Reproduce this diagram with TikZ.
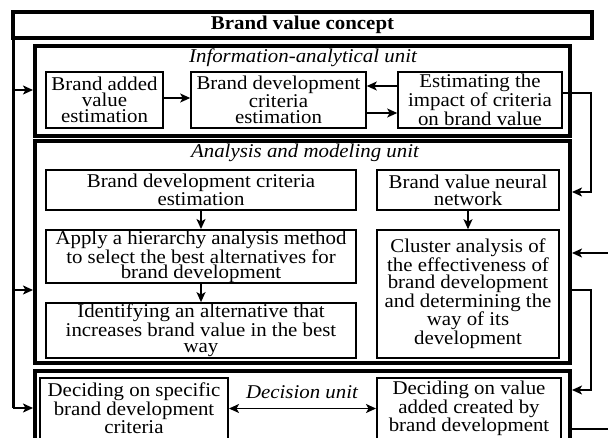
\documentclass[tikz,border=0pt]{standalone}
\usepackage{fontspec}
\setmainfont{Liberation Serif}[FakeStretch=1.07]
\usetikzlibrary{arrows.meta}
\tikzset{
  frame/.style={draw, line width=4pt, minimum width=535pt, inner sep=0pt, outer sep=2pt},
  ibox/.style={draw, line width=1.6pt, align=center, inner sep=1pt, font=\fontsize{19.5}{16}\selectfont},
  utitle/.style={font=\fontsize{19.5}{20}\selectfont\itshape, inner sep=0pt},
  arr/.style={line width=1.6pt, -{Stealth[length=10pt,width=9pt,inset=2.5pt]}},
  darr/.style={line width=1.6pt, {Stealth[length=10pt,width=9pt,inset=2.5pt]}-{Stealth[length=10pt,width=9pt,inset=2.5pt]}},
  link/.style={line width=1.6pt},
}
\begin{document}
\begin{tikzpicture}[x=1pt,y=-1pt]
\useasboundingbox (0,0) rectangle (608,437);
\clip (0,0) rectangle (608,437);
\fill[white] (0,0) rectangle (608,437);

% title
\node[draw, line width=4pt, minimum width=579pt, minimum height=26pt, inner sep=0pt, outer sep=0pt,
      font=\fontsize{19.5}{20}\selectfont\bfseries] (title) at (302.5,25) {Brand value concept};

% unit frames
\node[frame, minimum height=89.5pt] (info) at (302.5,90.75) {};
\node[frame, minimum height=222.5pt] (ana) at (302.5,251.75) {};
\node[frame, minimum height=89pt] (dec) at (302.5,415.5) {};

\node[utitle] (tinfo) at (303,58) {Information-analytical unit};
\node[utitle] (tana) at (305,153) {Analysis and modeling unit};
\node[utitle] (tdec) at (302,392) {Decision unit};

% information unit boxes
\node[ibox, minimum width=117pt, minimum height=56pt] (i1) at (104.5,100) {Brand added\\value\\estimation};
\node[ibox, minimum width=175pt, minimum height=56pt] (i2) at (278.5,100) {Brand development\\criteria\\estimation};
\node[ibox, minimum width=164pt, minimum height=56pt] (i3) at (480,100) {Estimating the\\impact of criteria\\on brand value};

% analysis unit boxes
\node[ibox, minimum width=310pt, minimum height=40pt, font=\fontsize{19.5}{17}\selectfont] (a1) at (201,190) {Brand development criteria\\estimation};
\node[ibox, minimum width=310pt, minimum height=53pt, font=\fontsize{19.5}{13}\selectfont] (a2) at (201,256.5) {Apply a hierarchy analysis method\\to select the best alternatives for\\brand development};
\node[ibox, minimum width=310pt, minimum height=55pt, font=\fontsize{19.5}{16.5}\selectfont] (a3) at (201,330.5) {Identifying an alternative that\\increases brand value in the best\\way};
\node[ibox, minimum width=182pt, minimum height=40pt, font=\fontsize{19.5}{17}\selectfont] (n1) at (468,190) {Brand value neural\\network};
\node[ibox, minimum width=182pt, minimum height=128pt, font=\fontsize{19.5}{16.5}\selectfont] (n2) at (468,294) {Cluster analysis of\\the effectiveness of\\brand development\\and determining the\\way of its\\development};

% decision unit boxes
\node[ibox, line width=2pt, minimum width=188pt, minimum height=61pt] (d1) at (134,408.5) {Deciding on specific\\brand development\\criteria};
\node[ibox, line width=2pt, minimum width=184pt, minimum height=61pt] (d2) at (469,408.5) {Deciding on value\\added created by\\brand development};

% coordinates
\coordinate (l0) at (13,37);
\coordinate (l1) at (13,408);
\coordinate (l2) at (13,90);
\coordinate (l3) at (13,290);
\coordinate (c1) at (591,192);
\coordinate (c2) at (608,253);
\coordinate (c3) at (591,290);
\coordinate (c4) at (591,390);
\coordinate (c5) at (608,429);

% connectors
\draw[line width=3pt] (l0) -- (l1);
\draw[arr] (l1) -- (l1 -| dec.west);
\draw[arr] (l2) -- (l2 -| info.west);
\draw[arr] (l3) -- (l3 -| ana.west);

\draw[arr] ([yshift=2pt]i1.east) -- ([yshift=2pt]i2.west);
\draw[arr] ([yshift=14pt]i3.west) -- ([yshift=14pt]i2.east);
\draw[arr] ([yshift=-13pt]i2.east) -- ([yshift=-13pt]i3.west);

\draw[arr] ([yshift=7pt]i3.east) -| (c1) -- (c1 -| ana.east);
\draw[arr] (c2) -- (c2 -| ana.east);
\draw[arr] (c3 -| ana.east) -- (c3) -- (c4) -- (c4 -| dec.east);
\draw[link] (c5 -| dec.east) -- (c5);

\draw[arr] (a1.south) -- (a2.north);
\draw[arr] (a2.south) -- (a3.north);
\draw[arr] (n1.south) -- (n2.north);
\draw[darr] (d1.east) -- (d2.west);
\end{tikzpicture}
\end{document}
